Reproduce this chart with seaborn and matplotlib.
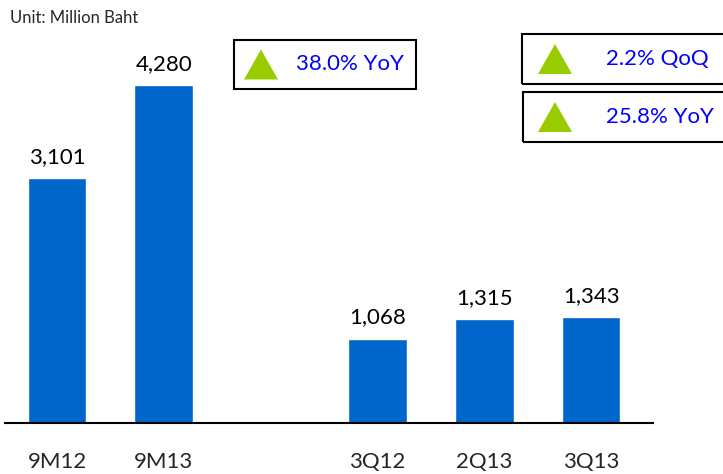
import pandas as pd
import seaborn as sns
import matplotlib.pyplot as plt
from matplotlib.patches import Rectangle, Polygon

periods = ['9M12', '9M13', '3Q12', '2Q13', '3Q13']
revenue = [3101, 4280, 1068, 1315, 1343]
order = ['9M12', '9M13', ' ', '3Q12', '2Q13', '3Q13']

growth_labels = ['38.0% YoY', '2.2% QoQ', '25.8% YoY']

W, H = 723, 474
BAR_BLUE = '#0066CC'
TRI_GREEN = '#99CC00'
TXT_BLUE = '#0000FF'

sns.set_style('white')
plt.rcParams['font.family'] = ['Lato', 'DejaVu Sans']

df = pd.DataFrame({'period': periods, 'revenue': revenue})

fig = plt.figure(figsize=(W / 100, H / 100), dpi=100)
ax = fig.add_axes([5 / W, 1 - 423 / H, 648 / W, 423 / H])

sns.barplot(data=df, x='period', y='revenue', order=order, color=BAR_BLUE,
            saturation=1, width=0.55, ax=ax)

for c in ax.containers:
    ax.bar_label(c, labels=[f'{v:,.0f}' for v in c.datavalues], padding=8,
                 fontsize=16, color='black')

ax.set_ylim(0, 5356)
ax.set_xlim(-0.487, 5.58)
ax.set_xlabel('')
ax.set_ylabel('')
ax.set_yticks([])
ax.tick_params(axis='x', length=0, pad=21, labelsize=16)
for side in ['left', 'right', 'top']:
    ax.spines[side].set_visible(False)
ax.spines['bottom'].set_color('black')
ax.spines['bottom'].set_linewidth(1.5)

fig.text(10 / W, 1 - 18 / H, 'Unit: Million Baht', fontsize=12, va='center')


def px(x, y):
    return (x / W, 1 - y / H)


def growth_box(x0, y0, x1, y1, tri_x, text_x, label):
    fig.add_artist(Rectangle(px(x0, y1), (x1 - x0) / W, (y1 - y0) / H,
                             transform=fig.transFigure, fill=False,
                             edgecolor='black', linewidth=1.5))
    cy = (y0 + y1) / 2
    fig.add_artist(Polygon([px(tri_x, cy + 15), px(tri_x + 34, cy + 15),
                            px(tri_x + 17, cy - 15)], closed=True,
                           transform=fig.transFigure, facecolor=TRI_GREEN,
                           edgecolor='none'))
    fig.text(text_x / W, 1 - cy / H, label, fontsize=16, color=TXT_BLUE,
             va='center', ha='left')


growth_box(234, 40, 416, 89, 244, 296, growth_labels[0])
growth_box(522, 34, 725, 84, 538, 606, growth_labels[1])
growth_box(523, 92, 725, 142, 538, 606, growth_labels[2])

fig.savefig('out.png', dpi=100)
